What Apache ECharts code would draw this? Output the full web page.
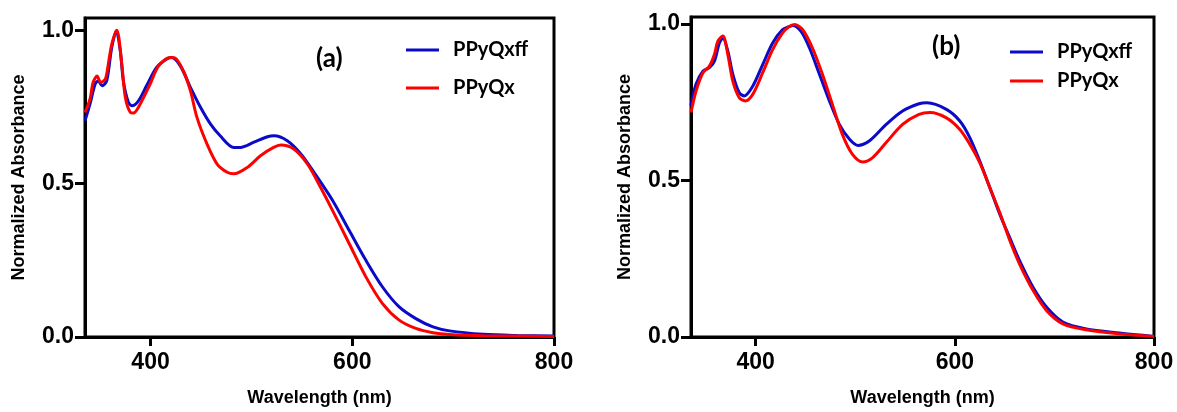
<!DOCTYPE html>
<html>
<head>
<meta charset="utf-8">
<script src="https://cdn.jsdelivr.net/npm/echarts@6/dist/echarts.min.js"></script>
<style>
html,body{margin:0;padding:0;background:#fff;}
#chart{width:1177px;height:412px;}
</style>
</head>
<body>
<div id="chart"></div>
<script>
// ---------- data ----------
const seriesNames = ['PPyQxff', 'PPyQx'];
const panelLabels = ['(a)', '(b)'];
const xTickValues = [400, 600, 800];
const yTickValues = [0, 0.5, 1.0];
const xAxisTitle = 'Wavelength (nm)';
const yAxisTitle = 'Normalized Absorbance';

// Panel (a) PPyQxff
const wlA_ff = [335,340,345,348,352,356.5,361.5,366,370,373,378,381.5,388,396,406,416,421,429.5,439.5,449.5,459.5,469,482.5,489,502.5,516,522.5,535.5,549,562,580.5,597,613.5,630,646.5,663,680,696.5,730,763,800];
const absA_ff = [0.705,0.76,0.824,0.835,0.819,0.835,0.944,0.998,0.933,0.835,0.765,0.754,0.77,0.819,0.879,0.906,0.911,0.884,0.814,0.749,0.694,0.656,0.618,0.618,0.635,0.653,0.656,0.64,0.597,0.537,0.445,0.347,0.25,0.163,0.098,0.06,0.033,0.02,0.009,0.005,0.003];
// Panel (a) PPyQx
const wlA_x = [335,340,343,347,350.5,355,356.5,361.5,366.5,371.5,375,380,383,388,399.5,408,419.5,424,432.5,439.5,446,456,466,476,482.5,496,509,522,529,542,555.5,568.5,580.5,597,613.5,630,646.5,663,680,696.5,730,800];
const absA_x = [0.732,0.776,0.83,0.851,0.83,0.84,0.857,0.954,1.0,0.889,0.781,0.732,0.73,0.749,0.824,0.884,0.911,0.91,0.868,0.803,0.716,0.629,0.564,0.537,0.532,0.553,0.591,0.618,0.626,0.613,0.564,0.488,0.412,0.304,0.196,0.109,0.055,0.028,0.014,0.008,0.004,0.002];
// Panel (b) PPyQxff
const wlB_ff = [335,340,347,353.5,358.5,363.5,367,372,377,383.5,388.5,397,407,417,427,434,437,445.5,454,464,474,484,494,502.5,514,531,547.5,564,572,591.5,605,615,625,635,645,655,665,678.5,692,708.5,732,765,800];
const absB_ff = [0.74,0.807,0.849,0.86,0.881,0.939,0.955,0.913,0.839,0.78,0.77,0.801,0.87,0.939,0.982,0.992,0.995,0.976,0.923,0.839,0.754,0.679,0.632,0.612,0.626,0.679,0.722,0.745,0.748,0.727,0.69,0.637,0.562,0.478,0.393,0.318,0.244,0.159,0.096,0.048,0.026,0.013,0.002];
// Panel (b) PPyQx
const wlB_x = [335,340,347,353.5,358.5,362,367,372,377,383.5,389.5,397,407,417,427,433,439,447,457,467,477,487,497,507.5,517.5,531,547.5,564,575,591.5,605,615,625,635,645,655,665,678.5,692,708.5,732,765,800];
const absB_x = [0.717,0.785,0.844,0.865,0.902,0.945,0.961,0.902,0.817,0.764,0.754,0.775,0.844,0.918,0.971,0.99,0.998,0.982,0.923,0.839,0.743,0.647,0.584,0.559,0.573,0.621,0.679,0.711,0.717,0.7,0.663,0.616,0.557,0.478,0.398,0.31,0.233,0.149,0.085,0.042,0.023,0.01,0.002];

const colorFF = '#0a0ac8';
const colorX = '#ff0000';

function pairs(xs, ys) { return xs.map((x, i) => [x, ys[i]]); }

// ---------- chart ----------
const chart = echarts.init(document.getElementById('chart'), null, {renderer: 'canvas'});
const axisFont = 'Liberation Sans, Arial, sans-serif';

function makeX(gi) {
  return {
    type: 'value', gridIndex: gi, min: 335, max: 800,
    axisLine: {show: true, onZero: false, lineStyle: {color: '#000', width: 3}},
    axisTick: {show: true, length: 9, lineStyle: {color: '#000', width: 3}, customValues: xTickValues},
    axisLabel: {customValues: xTickValues, margin: 14, color: '#000', fontFamily: axisFont, fontWeight: 'bold', fontSize: 23},
    splitLine: {show: false},
    name: xAxisTitle, nameLocation: 'middle', nameGap: 52,
    nameTextStyle: {color: '#000', fontFamily: axisFont, fontWeight: 'bold', fontSize: 18}
  };
}
function makeY(gi, max) {
  return {
    type: 'value', gridIndex: gi, min: 0, max: max,
    axisLine: {show: true, onZero: false, lineStyle: {color: '#000', width: 3}},
    axisTick: {show: true, length: 10, lineStyle: {color: '#000', width: 3}, customValues: yTickValues},
    axisLabel: {customValues: yTickValues, margin: 11, color: '#000', fontFamily: axisFont, fontWeight: 'bold', fontSize: 23,
      formatter: v => Number(v).toFixed(1)},
    splitLine: {show: false},
    name: yAxisTitle, nameLocation: 'middle', nameGap: 57, nameRotate: 90,
    nameTextStyle: {color: '#000', fontFamily: axisFont, fontWeight: 'bold', fontSize: 18}
  };
}
function makeSeries(name, xs, ys, color, gi) {
  return {
    type: 'line', name: name, xAxisIndex: gi, yAxisIndex: gi,
    data: pairs(xs, ys), showSymbol: false, symbol: 'none', smooth: 0.3,
    color: color, lineStyle: {color: color, width: 3}, itemStyle: {color: color},
    animation: false
  };
}
const legendText = {color: '#000', fontFamily: 'Lato, sans-serif', fontWeight: 'bold', fontSize: 20, padding: [0, 0, 0, 9]};

chart.setOption({
  backgroundColor: '#fff',
  animation: false,
  grid: [
    {left: 85, top: 18, width: 469, height: 321, show: true, borderColor: '#000', borderWidth: 3, backgroundColor: 'transparent'},
    {left: 691, top: 17, width: 463, height: 321, show: true, borderColor: '#000', borderWidth: 3, backgroundColor: 'transparent'}
  ],
  xAxis: [makeX(0), makeX(1)],
  yAxis: [makeY(0, 1.04), makeY(1, 1.022)],
  legend: [
    {data: seriesNames, orient: 'vertical', left: 401, top: 35, itemWidth: 33, itemHeight: 3, icon: 'rect', itemGap: 18, textStyle: legendText, selectedMode: false},
    {data: seriesNames, orient: 'vertical', left: 1005, top: 37, itemWidth: 33, itemHeight: 3, icon: 'rect', itemGap: 9, textStyle: legendText, selectedMode: false}
  ],
  graphic: [
    {type: 'text', left: 316, top: 46, style: {text: panelLabels[0], fill: '#000', font: 'bold 26px Lato, sans-serif'}},
    {type: 'text', left: 932, top: 34, style: {text: panelLabels[1], fill: '#000', font: 'bold 26px Lato, sans-serif'}}
  ],
  series: [
    makeSeries(seriesNames[0], wlA_ff, absA_ff, colorFF, 0),
    makeSeries(seriesNames[1], wlA_x, absA_x, colorX, 0),
    makeSeries(seriesNames[0], wlB_ff, absB_ff, colorFF, 1),
    makeSeries(seriesNames[1], wlB_x, absB_x, colorX, 1)
  ]
});
</script>
</body>
</html>
